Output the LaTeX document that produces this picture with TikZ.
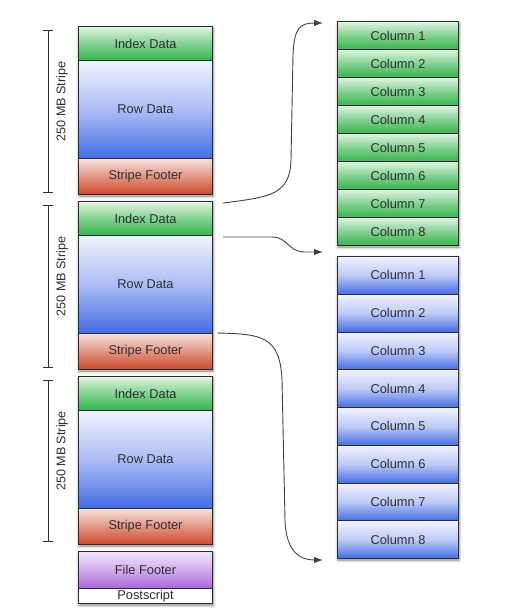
\documentclass[tikz,border=0pt]{standalone}
\usepackage{fontspec}
\setmainfont{Liberation Sans}
\usetikzlibrary{shadows.blur,arrows.meta}
\definecolor{gdark}{RGB}{52,180,76}
\definecolor{glight}{RGB}{226,245,226}
\definecolor{bdark}{RGB}{66,108,228}
\definecolor{blight}{RGB}{242,243,255}
\definecolor{rdark}{RGB}{204,72,40}
\definecolor{rlight}{RGB}{248,226,220}
\definecolor{pdark}{RGB}{168,102,220}
\definecolor{plight}{RGB}{244,230,252}
\definecolor{txt}{RGB}{45,45,50}
\definecolor{edge}{RGB}{45,45,45}
\begin{document}
\begin{tikzpicture}[x=1pt,y=-1pt,
  cell/.style={draw=edge, line width=1pt, anchor=north west, inner sep=0pt,
    font=\fontsize{12.8}{14}\selectfont, text=txt},
  lcell/.style={cell, minimum width=134pt},
  gcol/.style={cell, minimum width=121pt, minimum height=28pt, top color=glight, bottom color=gdark, middle color=gdark!55!glight},
  bcol/.style={cell, minimum width=121pt, minimum height=37.75pt, top color=blight, bottom color=bdark, middle color=bdark!30!blight},
  idxcell/.style={lcell, minimum height=34pt, top color=glight, bottom color=gdark, middle color=gdark!55!glight},
  rowcell/.style={lcell, minimum height=98pt, top color=blight, bottom color=bdark, middle color=bdark!40!blight},
  footcell/.style={lcell, minimum height=36pt, top color=rlight, bottom color=rdark, middle color=rdark!50!rlight},
  shadowbox/.style={fill=white, blur shadow={shadow xshift=1pt, shadow yshift=-2pt, shadow blur radius=3pt, shadow opacity=50}},
  bracket/.style={draw=edge, line width=0.8pt, {Bar[width=10pt]}-{Bar[width=10pt]}},
  blabel/.style={rotate=90, font=\fontsize{12.6}{14}\selectfont, text=txt},
  conn/.style={draw=edge!90, line width=0.9pt, -{Latex[length=9pt,width=6.5pt]}}
]
\useasboundingbox (0,0) rectangle (518,611);

% shadows of the blocks
\path[shadowbox] (78,26) rectangle (212,194);
\path[shadowbox] (78,201) rectangle (212,369);
\path[shadowbox] (78,376) rectangle (212,544);
\path[shadowbox] (78,551) rectangle (212,603);
\path[shadowbox] (337,21) rectangle (458,245);
\path[shadowbox] (337,256) rectangle (458,558);

% stripes
\foreach \s/\t in {1/26,2/201,3/376}{
  \node[idxcell] (s\s i) at (78,\t) {Index Data};
  \node[rowcell] (s\s r) at (78,\t+34) {Row Data};
  \node[footcell] (s\s f) at (78,\t+132) {Stripe Footer};
}
\node[lcell, minimum height=37pt, top color=plight, bottom color=pdark, middle color=pdark!45!plight] (ff) at (78,551) {File Footer};
\node[lcell, minimum height=15pt, fill=white] (ps) at (78,588) {Postscript};

% brackets
\foreach \s/\a/\b in {1/30/193,2/205/368,3/380/542}{
  \coordinate (b\s t) at (48,\a);
  \coordinate (b\s b) at (48,\b);
  \draw[bracket] (b\s t) -- (b\s b);
  \node[blabel] (l\s) at (62,{(\a+\b)/2-10}) {250 MB Stripe};
}

% green columns
\foreach \i in {1,...,8}{
  \node[gcol] (g\i) at (337,{21+28*(\i-1)}) {Column \i};
}
% blue columns
\foreach \i in {1,...,8}{
  \node[bcol] (c\i) at (337,{256+37.75*(\i-1)}) {Column \i};
}

% connectors
\coordinate (a1s) at (223,203);
\coordinate (a1e) at (323,23);
\coordinate (a2s) at (223,237);
\coordinate (a2e) at (323,252);
\coordinate (a3s) at (217,333);
\coordinate (a3e) at (323,560);
\draw[conn] (a1s) .. controls (270,197) and (290,195) .. (291,160)
  -- (293,55) .. controls (294,28) and (300,23) .. (a1e);
\draw[conn] (a2s) -- (272,237) .. controls (288,237) and (288,252) .. (305,252) -- (a2e);
\draw[conn] (a3s) .. controls (262,334) and (280,336) .. (282,380)
  -- (285,520) .. controls (286,552) and (300,560) .. (a3e);
\end{tikzpicture}
\end{document}
